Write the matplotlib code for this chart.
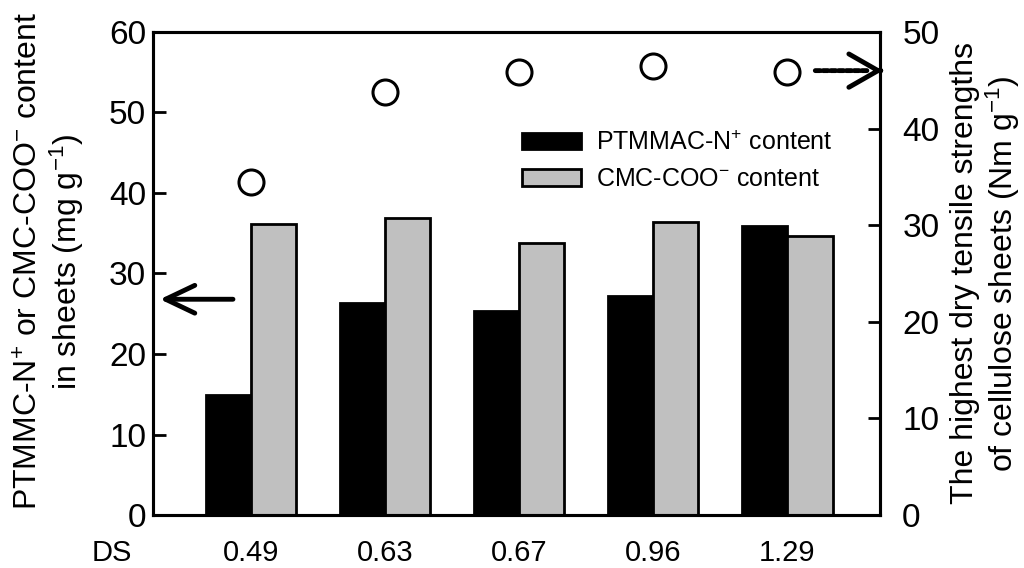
import matplotlib
matplotlib.use("Agg")
import matplotlib.pyplot as plt
import numpy as np

plt.rcParams["font.family"] = ["Liberation Sans", "DejaVu Sans"]
plt.rcParams["mathtext.fontset"] = "custom"
plt.rcParams["mathtext.rm"] = "Liberation Sans"
plt.rcParams["mathtext.it"] = "Liberation Sans"
plt.rcParams["mathtext.default"] = "regular"

# Degree of substitution of the CMC samples
ds_labels = ["0.49", "0.63", "0.67", "0.96", "1.29"]
# Ion content retained in the sheets (mg g-1)
ptmmac_n = [14.9, 26.3, 25.3, 27.2, 35.9]
cmc_coo = [36.1, 36.9, 33.8, 36.4, 34.7]
# Highest dry tensile strength (N m g-1)
tensile = [34.5, 43.8, 45.9, 46.5, 45.9]

fig = plt.figure(figsize=(10.24, 5.68), dpi=100)
ax = fig.add_axes([0.1494, 0.0933, 0.7100, 0.8504])
ax2 = ax.twinx()

x = np.arange(len(ds_labels))
w = 0.336
ax.bar(x - w / 2, ptmmac_n, w, color="black", edgecolor="black",
       linewidth=2, label="PTMMAC-N$^{+}$ content", zorder=2)
ax.bar(x + w / 2, cmc_coo, w, color="#c0c0c0", edgecolor="black",
       linewidth=2, label="CMC-COO$^{-}$ content", zorder=2)

ax2.plot(x, tensile, linestyle="none", marker="o", markersize=18,
         markerfacecolor="white", markeredgecolor="black",
         markeredgewidth=2.2, zorder=3)

ax.set_xlim(-0.73, 4.69)
ax.set_ylim(0, 60)
ax2.set_ylim(0, 50)
ax.set_yticks(np.arange(0, 61, 10))
ax2.set_yticks(np.arange(0, 51, 10))

ax.set_xticks(x)
ax.set_xticklabels(ds_labels)
ax.tick_params(axis="x", length=0, pad=17, labelsize=21)
ax.tick_params(axis="y", direction="in", length=9, width=2, pad=5, labelsize=24)
ax2.tick_params(axis="y", direction="in", length=9, width=2, pad=16, labelsize=24)

for a in (ax, ax2):
    for s in a.spines.values():
        s.set_linewidth(2.2)

ax.annotate("DS", xy=(-0.056, 0), xycoords="axes fraction",
            xytext=(0, -17), textcoords="offset points",
            ha="center", va="top", fontsize=21)

ax.set_ylabel("PTMMC-N$^{+}$ or CMC-COO$^{-}$ content\nin sheets (mg g$^{-1}$)",
              fontsize=23, linespacing=1.1)
ax.yaxis.set_label_coords(-0.092, 0.525)
ax2.set_ylabel("The highest dry tensile strengths\nof cellulose sheets (Nm g$^{-1}$)",
               fontsize=23, labelpad=8, linespacing=1.1)

leg = ax.legend(loc="upper left", bbox_to_anchor=(0.494, 0.817), frameon=False,
                fontsize=18, handlelength=2.35, handleheight=0.64,
                handletextpad=0.6, labelspacing=0.5, borderaxespad=0)

# Arrows pointing each series to its own axis
ax.annotate("", xy=(0.0096, 26.8), xycoords=("axes fraction", "data"),
            xytext=(0.110, 26.8), textcoords=("axes fraction", "data"),
            arrowprops=dict(arrowstyle="->,head_length=2.1,head_width=1.0",
                            mutation_scale=10, lw=3.5, color="black",
                            shrinkA=0, shrinkB=0))
ax2.annotate("", xy=(0.985, 46.0), xycoords=("axes fraction", "data"),
             xytext=(0.911, 46.0), textcoords=("axes fraction", "data"),
             arrowprops=dict(arrowstyle="-", lw=3.5, linestyle=(0, (1, 0.6)),
                             color="black", shrinkA=0, shrinkB=0),
             annotation_clip=False)
ax2.annotate("", xy=(1.004, 46.0), xycoords=("axes fraction", "data"),
             xytext=(1.0, 46.0), textcoords=("axes fraction", "data"),
             arrowprops=dict(arrowstyle="->,head_length=2.1,head_width=1.2",
                             mutation_scale=10, lw=3.5, color="black",
                             shrinkA=0, shrinkB=0),
             annotation_clip=False)

fig.savefig("out.png", dpi=100)
